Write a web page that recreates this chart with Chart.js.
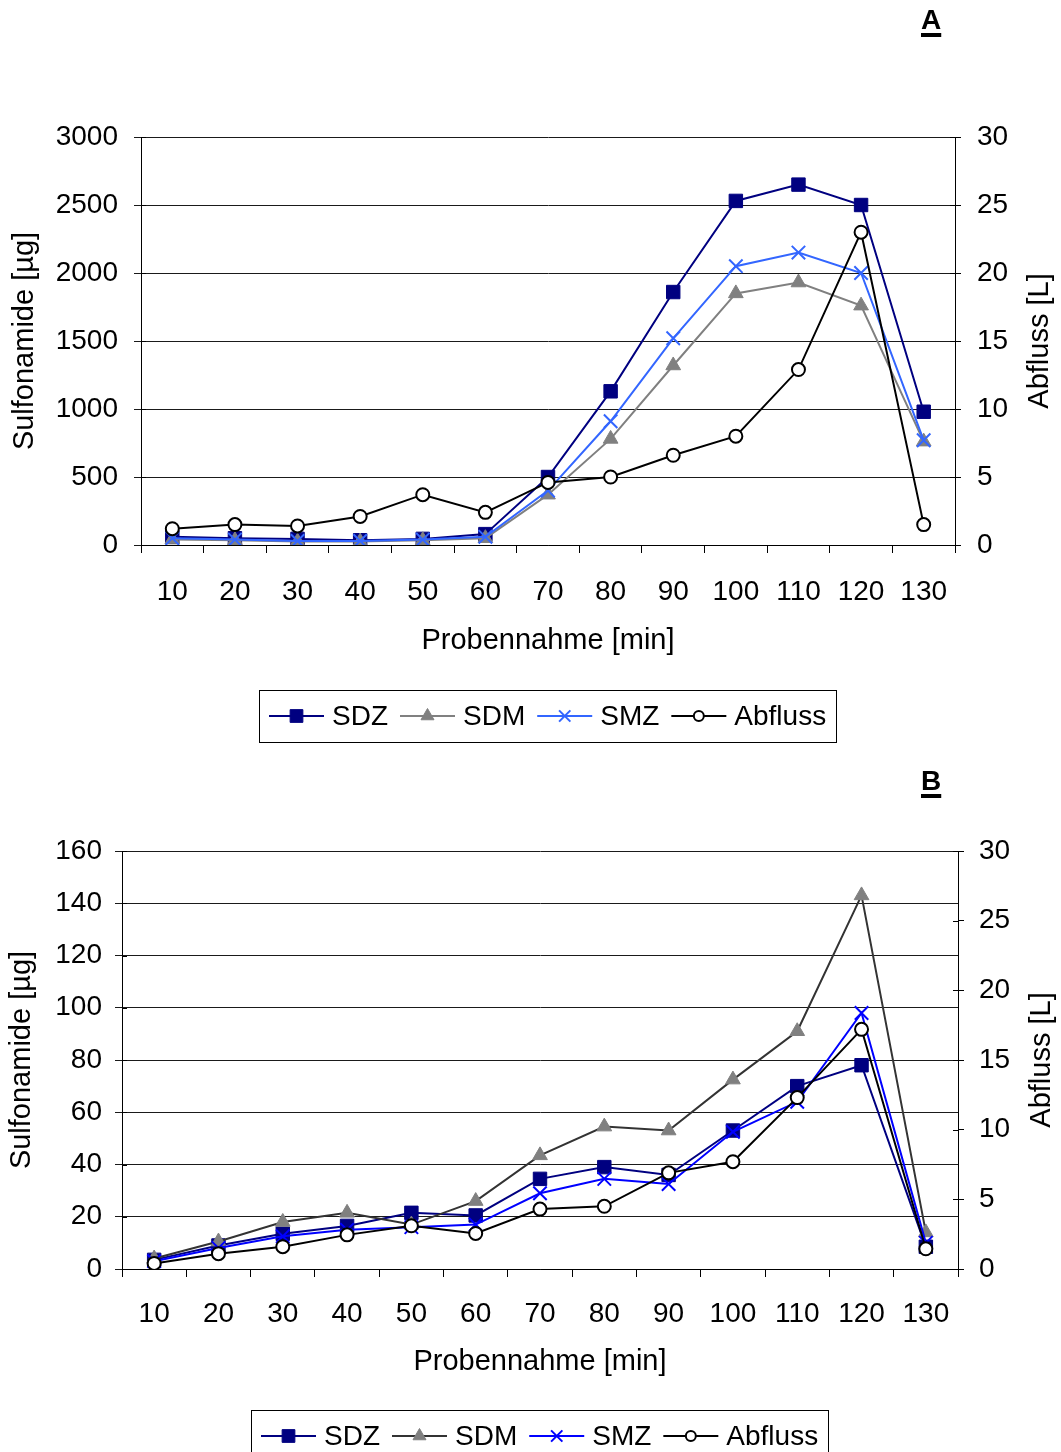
<!DOCTYPE html>
<html>
<head>
<meta charset="utf-8">
<script src="https://cdn.jsdelivr.net/npm/chart.js@4.4.1/dist/chart.umd.min.js"></script>
<style>
  html, body { margin: 0; padding: 0; background: #fff; }
  #wrap { position: relative; width: 1061px; height: 1452px; overflow: hidden; }
  canvas { position: absolute; left: 0; }
  #chart-a { top: 0; }
  #chart-b { top: 752px; }
  .panel-letter {
    position: absolute; left: 921px;
    font: bold 28px "Liberation Sans", Arial, sans-serif;
    text-decoration: underline; text-decoration-thickness: 4px; text-underline-offset: 4px;
  }
</style>
</head>
<body>
<div id="wrap">
  <canvas id="chart-a" width="1061" height="752"></canvas>
  <canvas id="chart-b" width="1061" height="700"></canvas>
  <div class="panel-letter" style="top:4px">A</div>
  <div class="panel-letter" style="top:765px">B</div>
</div>
<script>
// ── DATEN ──────────────────────────────────────
const probennahme = ['10', '20', '30', '40', '50', '60', '70', '80', '90', '100', '110', '120', '130'];

// Abb. A
const sdzA     = [60, 50, 45, 35, 45, 80, 500, 1130, 1860, 2530, 2650, 2500, 980];
const sdmA     = [40, 35, 25, 25, 35, 50, 370, 780, 1320, 1850, 1930, 1760, 760];
const smzA     = [50, 40, 30, 30, 40, 60, 400, 910, 1520, 2050, 2150, 2000, 770];
const abflussA = [1.2, 1.5, 1.4, 2.1, 3.7, 2.4, 4.6, 5.0, 6.6, 8.0, 12.9, 23.0, 1.5];

// Abb. B
const sdzB     = [3.5, 9, 13.5, 16.5, 21.5, 20.5, 34.5, 39, 36, 53, 70, 78, 8.5];
const sdmB     = [4, 10.5, 18, 21.5, 17, 26, 43.5, 54.5, 53, 72.5, 91, 143, 14];
const smzB     = [3, 8, 12.5, 15, 16, 17, 29, 34.5, 32.5, 52.5, 64, 98, 10];
const abflussB = [0.4, 1.1, 1.6, 2.45, 3.1, 2.55, 4.3, 4.5, 6.9, 7.7, 12.3, 17.2, 1.45];

// Achsen
const yMaxA = 3000, yStepA = 500;
const yMaxB = 160,  yStepB = 20;
const abflussMax = 30, abflussStep = 5;

const FONT = '"Liberation Sans", Arial, sans-serif';
Chart.defaults.font.family = FONT;
Chart.defaults.color = '#000';

// ── HELPERS ────────────────────────────────────
function drawMarker(ctx, ds, x, y, r) {
  ctx.save();
  ctx.fillStyle = ds.pointBackgroundColor;
  ctx.strokeStyle = ds.pointBorderColor;
  ctx.lineWidth = ds.pointBorderWidth;
  ctx.beginPath();
  const s = r * Math.SQRT1_2;
  switch (ds.pointStyle) {
    case 'rect':
      ctx.rect(x - s, y - s, 2 * s, 2 * s); ctx.fill(); ctx.stroke(); break;
    case 'triangle':
      ctx.moveTo(x, y - r); ctx.lineTo(x + r * 0.866, y + r / 2); ctx.lineTo(x - r * 0.866, y + r / 2);
      ctx.closePath(); ctx.fill(); ctx.stroke(); break;
    case 'crossRot':
      ctx.moveTo(x - s, y - s); ctx.lineTo(x + s, y + s);
      ctx.moveTo(x - s, y + s); ctx.lineTo(x + s, y - s); ctx.stroke(); break;
    default:
      ctx.arc(x, y, r, 0, Math.PI * 2); ctx.fill(); ctx.stroke();
  }
  ctx.restore();
}

// Achsentitel, innere Tickstriche und Legende mit Rahmen
const extras = {
  id: 'extras',
  afterDraw(chart, args, o) {
    const { ctx, chartArea: a } = chart;
    const cy = (a.top + a.bottom) / 2;
    ctx.save();

    // kurze Striche nach innen (Ticks kreuzen die Achse)
    ctx.strokeStyle = '#000'; ctx.lineWidth = 1;
    ['y', 'y1'].forEach(id => {
      const sc = chart.scales[id];
      sc.ticks.forEach(t => {
        const py = Math.round(sc.getPixelForValue(t.value)) + 0.5;
        const ax = id === 'y' ? a.left : a.right;
        const dir = id === 'y' ? 1 : -1;
        ctx.beginPath(); ctx.moveTo(ax, py); ctx.lineTo(ax + dir * 5, py); ctx.stroke();
      });
    });

    ctx.fillStyle = '#000';
    ctx.font = `29px ${FONT}`;
    ctx.textAlign = 'center';
    ctx.textBaseline = 'middle';
    ctx.save(); ctx.translate(o.leftX, cy); ctx.rotate(-Math.PI / 2); ctx.fillText(o.leftTitle, 0, 0); ctx.restore();
    ctx.save(); ctx.translate(o.rightX, cy); ctx.rotate(-Math.PI / 2); ctx.fillText(o.rightTitle, 0, 0); ctx.restore();
    ctx.fillText(o.xTitle, (a.left + a.right) / 2, o.xTitleY);

    // Legende
    ctx.font = `28px ${FONT}`;
    const lineW = 55, gap1 = 8, gap2 = 12, pad = 10, h = 52;
    const items = chart.data.datasets.map(ds => ({ ds, w: ctx.measureText(ds.label).width }));
    const total = pad * 2 + items.reduce((s, it) => s + lineW + gap1 + it.w, 0) + gap2 * (items.length - 1);
    const x0 = Math.round((a.left + a.right) / 2 - total / 2);
    const y0 = o.legendTop, my = y0 + h / 2;
    ctx.strokeStyle = '#000'; ctx.lineWidth = 1;
    ctx.strokeRect(x0 + 0.5, y0 + 0.5, Math.round(total), h);
    let x = x0 + pad;
    items.forEach(({ ds, w }) => {
      ctx.strokeStyle = ds.borderColor; ctx.lineWidth = ds.borderWidth;
      ctx.beginPath(); ctx.moveTo(x, my); ctx.lineTo(x + lineW, my); ctx.stroke();
      drawMarker(ctx, ds, x + lineW / 2, my, ds.legendRadius);
      ctx.fillStyle = '#000'; ctx.textAlign = 'left';
      ctx.fillText(ds.label, x + lineW + gap1, my + 1);
      x += lineW + gap1 + w + gap2;
    });
    ctx.restore();
  }
};

function serie(label, data, line, fill, style, radius, legendRadius, axis, order) {
  return {
    label, data, yAxisID: axis, order,
    borderColor: line, borderWidth: 2,
    pointStyle: style, pointRadius: radius, legendRadius,
    pointBackgroundColor: fill, pointBorderColor: style === 'circle' ? line : (style === 'crossRot' ? line : fill),
    pointBorderWidth: style === 'crossRot' ? 2 : (style === 'circle' ? 2 : 1),
    tension: 0, fill: false
  };
}

function makeChart(id, datasets, yMax, yStep, box) {
  const tickFont = { size: 28, family: FONT };
  const plain = v => String(v);
  return new Chart(document.getElementById(id), {
    type: 'line',
    data: { labels: probennahme, datasets },
    plugins: [extras],
    options: {
      responsive: false, animation: false, events: [],
      devicePixelRatio: 1,
      layout: { padding: { top: box.top, left: 0, right: 0, bottom: 0 } },
      plugins: {
        legend: { display: false }, tooltip: { enabled: false },
        extras: {
          leftTitle: 'Sulfonamide [µg]', rightTitle: 'Abfluss [L]', xTitle: 'Probennahme [min]',
          leftX: box.leftX, rightX: box.rightX, xTitleY: box.xTitleY, legendTop: box.legendTop
        }
      },
      scales: {
        x: {
          type: 'category', offset: true,
          grid: { offset: true, drawOnChartArea: false, tickLength: 8, color: '#000' },
          border: { color: '#000', width: 1 },
          ticks: { font: tickFont, color: '#000', padding: box.xPad, autoSkip: false, maxRotation: 0 },
          afterFit: s => { s.height = box.xHeight; }
        },
        y: {
          position: 'left', min: 0, max: yMax,
          grid: { color: '#1a1a1a', lineWidth: 1, tickLength: 7 },
          border: { color: '#000', width: 1 },
          ticks: { stepSize: yStep, font: tickFont, color: '#000', padding: box.yPad, callback: plain },
          afterFit: s => { s.width = box.left; }
        },
        y1: {
          position: 'right', min: 0, max: abflussMax,
          grid: { drawOnChartArea: false, tickLength: 6, color: '#000' },
          border: { color: '#000', width: 1 },
          ticks: { stepSize: abflussStep, font: tickFont, color: '#000', padding: box.y1Pad, callback: plain },
          afterFit: s => { s.width = box.rightW; }
        }
      }
    }
  });
}

// ── ABB. A ─────────────────────────────────────
makeChart('chart-a', [
  serie('SDZ', sdzA, '#000080', '#000080', 'rect', 9.5, 9, 'y', 4),
  serie('SDM', sdmA, '#808080', '#808080', 'triangle', 8.5, 7.5, 'y', 3),
  serie('SMZ', smzA, '#3366FF', '#3366FF', 'crossRot', 9.5, 8, 'y', 2),
  serie('Abfluss', abflussA, '#000000', '#ffffff', 'circle', 6.5, 5, 'y1', 1)
], yMaxA, yStepA, {
  top: 137, left: 141, rightW: 1061 - 955, xHeight: 752 - 545,
  xPad: 22, yPad: 16, y1Pad: 16,
  leftX: 25, rightX: 1040, xTitleY: 641, legendTop: 690
});

// ── ABB. B ─────────────────────────────────────
makeChart('chart-b', [
  serie('SDZ', sdzB, '#000080', '#000080', 'rect', 9.5, 9, 'y', 4),
  serie('SDM', sdmB, '#333333', '#808080', 'triangle', 8.5, 7.5, 'y', 3),
  serie('SMZ', smzB, '#0000FF', '#0000FF', 'crossRot', 9.5, 8, 'y', 2),
  serie('Abfluss', abflussB, '#000000', '#ffffff', 'circle', 6.5, 5, 'y1', 1)
], yMaxB, yStepB, {
  top: 99, left: 122, rightW: 1061 - 958, xHeight: 700 - 517,
  xPad: 20, yPad: 13, y1Pad: 15,
  leftX: 22, rightX: 1042, xTitleY: 610, legendTop: 658
});
</script>
</body>
</html>
